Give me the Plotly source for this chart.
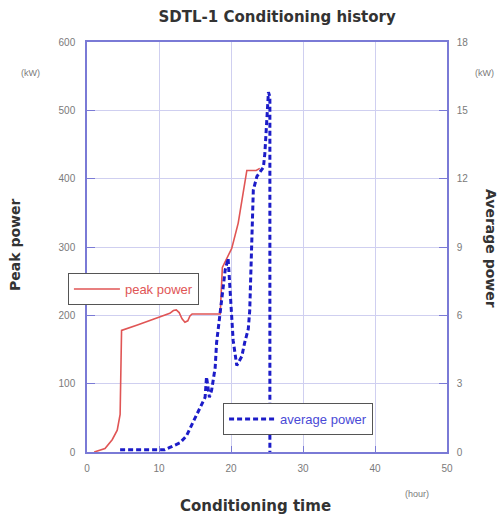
import plotly.graph_objects as go

# Peak power (kW, left axis) vs conditioning time (hour)
peak_t = [1.0, 2.5, 3.5, 4.2, 4.6, 4.8, 7.0, 9.0, 10.0, 11.5, 12.0, 12.4, 12.8, 13.2, 13.6, 14.0, 14.3, 14.6,
          18.5, 18.8, 20.1, 21.0, 21.7, 22.2, 23.5, 24.0]
peak_p = [0, 5, 18, 32, 55, 178, 186, 194, 198, 203, 207, 208, 204, 195, 190, 192, 199, 202,
          202, 270, 298, 335, 380, 412, 412, 415]

# Average power (kW, right axis)
avg_t = [4.6, 10.8, 11.5, 12.9, 13.8, 14.7, 15.7, 16.4, 16.6, 17.0, 17.3, 17.8, 18.0, 18.5, 18.7, 19.2, 19.6,
         20.0, 20.3, 20.8, 21.5, 21.9, 22.4, 22.6, 23.1, 23.6, 24.0, 24.5, 24.7, 25.0, 25.2, 25.4, 25.4]
avg_p = [0.1, 0.1, 0.2, 0.4, 0.7, 1.3, 2.0, 2.4, 3.3, 2.4, 2.7, 3.7, 4.8, 6.1, 6.7, 8.0, 8.5,
         6.7, 4.9, 3.8, 4.2, 4.8, 5.4, 6.2, 11.5, 12.1, 12.3, 12.5, 13.1, 14.9, 15.8, 15.6, 0]

x_ticks = [0, 10, 20, 30, 40, 50]
left_ticks = [0, 100, 200, 300, 400, 500, 600]
right_ticks = [0, 3, 6, 9, 12, 15, 18]

AXIS = "#7a7ad6"
GRID = "#cfcff0"
TICKFONT = dict(family="Liberation Sans", size=10, color="#7a7a7a")

fig = go.Figure()
fig.add_trace(go.Scatter(x=peak_t, y=peak_p, mode="lines", name="peak power",
                         line=dict(color="#e05555", width=1.6, shape="linear"), legend="legend"))
fig.add_trace(go.Scatter(x=avg_t, y=avg_p, mode="lines", name="average power", yaxis="y2",
                         line=dict(color="#1c1cc8", width=3, dash="5px,3px"), legend="legend2"))

fig.update_layout(
    width=503, height=516,
    margin=dict(l=87, r=56, t=42, b=64),
    paper_bgcolor="white", plot_bgcolor="white",
    title=dict(text="<b>SDTL-1 Conditioning history</b>", x=0.551, xref="container", xanchor="center",
               y=1 - 17 / 516, yref="container", yanchor="middle",
               font=dict(family="DejaVu Sans", size=15, color="#333333")),
    xaxis=dict(range=[0, 50], tickvals=x_ticks, ticks="inside", ticklen=6, tickcolor=AXIS,
               showline=True, linecolor=AXIS, linewidth=1.5, mirror=True,
               showgrid=True, gridcolor=GRID, gridwidth=1, zeroline=False,
               tickfont=TICKFONT, ticklabelstandoff=6),
    yaxis=dict(range=[0, 600], tickvals=left_ticks, ticks="inside", ticklen=8, tickcolor=AXIS,
               showline=True, linecolor=AXIS, linewidth=1.5,
               showgrid=True, gridcolor=GRID, gridwidth=1, zeroline=False,
               tickfont=TICKFONT, ticklabelstandoff=8),
    yaxis2=dict(range=[0, 18], tickvals=right_ticks, overlaying="y", side="right",
                ticks="inside", ticklen=8, tickcolor=AXIS,
                showline=True, linecolor=AXIS, linewidth=1.5,
                showgrid=False, zeroline=False, tickfont=TICKFONT, ticklabelstandoff=6),
    legend=dict(x=-0.053, y=0.4366, xanchor="left", yanchor="top",
                bgcolor="white", bordercolor="#555555", borderwidth=1,
                font=dict(family="Liberation Sans", size=13, color="#e05555"),
                itemwidth=46, tracegroupgap=0),
    legend2=dict(x=0.378, y=0.1195, xanchor="left", yanchor="top",
                 bgcolor="white", bordercolor="#555555", borderwidth=1,
                 font=dict(family="Liberation Sans", size=13, color="#4a4ad6"),
                 itemwidth=46, tracegroupgap=0),
    showlegend=True,
)

ann_font_b = dict(family="DejaVu Sans", size=14, color="#333333")
small = dict(family="Liberation Sans", size=9, color="#7a7a7a")
fig.add_annotation(text="<b>Peak power</b>", xref="paper", yref="paper", x=(15 - 87) / 360, y=(452 - 245) / 410,
                   xanchor="center", yanchor="middle", textangle=-90, showarrow=False, font=ann_font_b)
fig.add_annotation(text="<b>Average power</b>", xref="paper", yref="paper", x=(491 - 87) / 360, y=(452 - 248) / 410,
                   xanchor="center", yanchor="middle", textangle=90, showarrow=False, font=ann_font_b)
fig.add_annotation(text="<b>Conditioning time</b>", xref="paper", yref="paper", x=(255 - 87) / 360, y=(452 - 506) / 410,
                   xanchor="center", yanchor="middle", showarrow=False,
                   font=dict(family="DejaVu Sans", size=15, color="#333333"))
fig.add_annotation(text="(hour)", xref="paper", yref="paper", x=(417 - 87) / 360, y=(452 - 494) / 410,
                   xanchor="center", yanchor="middle", showarrow=False, font=small)
fig.add_annotation(text="(kW)", xref="paper", yref="paper", x=(30 - 87) / 360, y=(452 - 73) / 410,
                   xanchor="center", yanchor="middle", showarrow=False, font=small)
fig.add_annotation(text="(kW)", xref="paper", yref="paper", x=(484 - 87) / 360, y=(452 - 73) / 410,
                   xanchor="center", yanchor="middle", showarrow=False, font=small)

fig.write_html("out.html")
